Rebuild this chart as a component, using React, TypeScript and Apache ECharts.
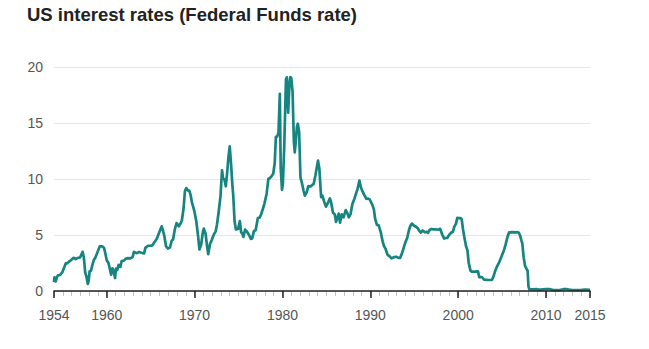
import React, { useEffect, useRef } from "react";
import * as echarts from "echarts";

const title = "US interest rates (Federal Funds rate)";
const xLabelYears = [1954, 1960, 1970, 1980, 1990, 2000, 2010, 2015];

// [year position, rate %]
const rate1950s: [number, number][] = [
  [1954.0, 0.8], [1954.05, 1.22], [1954.2, 0.85], [1954.35, 1.28],
  [1954.45, 1.39], [1954.7, 1.43], [1954.95, 1.68], [1955.2, 2.18], [1955.35, 2.48],
  [1955.45, 2.45], [1955.7, 2.62], [1955.95, 2.75], [1956.2, 2.96], [1956.35, 2.94],
  [1956.45, 2.84], [1956.7, 2.96], [1956.95, 2.99], [1957.12, 3.24], [1957.25, 3.5], [1957.4, 2.98],
  [1957.55, 1.67], [1957.7, 1.26], [1957.85, 0.63], [1957.95, 0.93], [1958.05, 1.76], [1958.2, 1.8], [1958.4, 2.42],
  [1958.55, 2.8], [1958.7, 2.96], [1958.95, 3.47], [1959.2, 3.98], [1959.4, 3.99],
];
const rate1960s: [number, number][] = [
  [1959.55, 3.97], [1959.7, 3.84], [1959.85, 3.32], [1960.0, 2.75], [1960.2, 2.5], [1960.35, 1.98],
  [1960.5, 1.45], [1960.65, 2.02], [1960.8, 1.73], [1960.95, 1.16], [1961.05, 2.0], [1961.2, 1.88], [1961.35, 2.33],
  [1961.55, 2.15], [1961.7, 2.68], [1961.95, 2.71], [1962.2, 2.9], [1962.4, 2.93],
  [1962.7, 2.92], [1962.95, 3.05], [1963.1, 3.49], [1963.4, 3.38],
  [1963.7, 3.48], [1963.95, 3.42], [1964.25, 3.36], [1964.4, 3.85],
  [1964.7, 4.04], [1964.95, 4.04], [1965.2, 4.08], [1965.4, 4.32],
  [1965.7, 4.67], [1965.95, 5.17], [1966.25, 5.77], [1966.4, 5.4],
  [1966.55, 4.94], [1966.75, 4.0], [1966.95, 3.79], [1967.2, 3.88], [1967.4, 4.51],
  [1967.55, 4.6], [1967.75, 5.5], [1967.95, 6.07], [1968.2, 5.78], [1968.4, 6.02],
  [1968.55, 6.3], [1968.75, 7.41], [1968.9, 8.9], [1969.05, 9.19], [1969.25, 8.97], [1969.4, 8.97],
];
const rate1970s: [number, number][] = [
  [1969.55, 8.57], [1969.7, 7.88], [1969.95, 7.21], [1970.2, 6.2], [1970.4, 4.9],
  [1970.55, 3.71], [1970.75, 4.15], [1970.95, 5.31], [1971.05, 5.57], [1971.25, 5.11], [1971.4, 4.14],
  [1971.55, 3.29], [1971.75, 4.17], [1971.95, 4.55], [1972.2, 5.06], [1972.4, 5.33],
  [1972.55, 5.94], [1972.75, 7.12], [1972.95, 8.49], [1973.12, 10.78], [1973.25, 10.01], [1973.4, 9.95],
  [1973.55, 9.35], [1973.7, 10.51], [1973.85, 11.93], [1974.0, 12.92], [1974.15, 11.34], [1974.3, 9.45], [1974.4, 8.53],
  [1974.55, 6.24], [1974.7, 5.49], [1974.95, 5.55], [1975.15, 6.24], [1975.3, 5.22], [1975.4, 5.2],
  [1975.55, 4.83], [1975.75, 5.48], [1975.95, 5.31], [1976.2, 5.0], [1976.4, 4.65],
  [1976.55, 4.69], [1976.75, 5.35], [1976.95, 5.42], [1977.2, 6.51], [1977.4, 6.56],
  [1977.55, 6.79], [1977.75, 7.28], [1977.95, 7.81], [1978.2, 8.69], [1978.4, 10.03],
  [1978.55, 10.07], [1978.75, 10.24], [1978.95, 10.47], [1979.12, 11.43], [1979.25, 13.77], [1979.4, 13.78],
];
const rate1980s: [number, number][] = [
  [1979.55, 14.13], [1979.7, 17.61], [1979.8, 10.98], [1979.95, 9.03], [1980.05, 9.61], [1980.2, 12.81], [1980.4, 18.9],
  [1980.5, 19.08], [1980.65, 15.93], [1980.8, 18.52], [1980.9, 19.1], [1981.0, 19.04], [1981.15, 17.82], [1981.3, 13.31], [1981.4, 12.37],
  [1981.5, 13.22], [1981.65, 14.68], [1981.75, 14.94], [1981.9, 14.15], [1982.05, 10.12], [1982.2, 9.71], [1982.4, 8.95],
  [1982.55, 8.51], [1982.75, 8.8], [1982.95, 9.37], [1983.2, 9.34], [1983.4, 9.47],
  [1983.55, 9.56], [1983.75, 10.32], [1983.95, 11.23], [1984.05, 11.64], [1984.2, 10.9], [1984.4, 8.38],
  [1984.55, 8.5], [1984.75, 7.97], [1984.95, 7.53], [1985.2, 7.92], [1985.4, 8.27],
  [1985.55, 7.86], [1985.75, 6.99], [1985.95, 6.85], [1986.1, 6.17], [1986.4, 6.91],
  [1986.55, 6.1], [1986.75, 6.85], [1986.95, 6.58], [1987.2, 7.22], [1987.4, 6.92],
  [1987.55, 6.58], [1987.75, 6.87], [1987.95, 7.75], [1988.2, 8.26], [1988.4, 8.76],
  [1988.55, 9.12], [1988.75, 9.85], [1988.95, 9.2], [1989.2, 8.75], [1989.4, 8.45],
];
const rate1990s: [number, number][] = [
  [1989.55, 8.23], [1989.75, 8.26], [1989.95, 8.15], [1990.2, 7.74], [1990.4, 7.31],
  [1990.55, 6.43], [1990.75, 5.91], [1990.95, 5.86], [1991.2, 5.21], [1991.4, 4.43],
  [1991.55, 4.03], [1991.75, 3.73], [1991.95, 3.25], [1992.2, 3.09], [1992.4, 2.92],
  [1992.7, 3.02], [1992.95, 3.06], [1993.2, 2.96], [1993.4, 2.96],
  [1993.55, 3.25], [1993.75, 3.73], [1993.95, 4.26], [1994.2, 4.76], [1994.4, 5.45],
  [1994.55, 5.81], [1994.75, 6.02], [1994.95, 5.85], [1995.2, 5.74], [1995.4, 5.6],
  [1995.55, 5.39], [1995.75, 5.22], [1995.95, 5.4], [1996.2, 5.24], [1996.4, 5.29],
  [1996.55, 5.19], [1996.75, 5.45], [1996.95, 5.54], [1997.2, 5.5], [1997.4, 5.5],
  [1997.55, 5.49], [1997.75, 5.48], [1997.95, 5.55], [1998.2, 5.0], [1998.4, 4.68],
  [1998.55, 4.73], [1998.75, 4.74], [1998.95, 4.99], [1999.2, 5.2], [1999.4, 5.3],
];
const rate2000s: [number, number][] = [
  [1999.55, 5.73], [1999.75, 6.02], [1999.9, 6.53], [2000.05, 6.5], [2000.25, 6.51], [2000.4, 6.4],
  [2000.55, 5.49], [2000.7, 4.8], [2000.9, 3.97], [2001.05, 3.65], [2001.2, 2.49], [2001.4, 1.82],
  [2001.55, 1.73], [2001.95, 1.73], [2002.25, 1.75], [2002.4, 1.24],
  [2002.7, 1.25], [2002.95, 1.01], [2003.4, 0.98],
  [2003.85, 1.0], [2004.0, 1.26], [2004.2, 1.76], [2004.4, 2.16],
  [2004.7, 2.63], [2004.95, 3.13], [2005.2, 3.62], [2005.4, 4.16],
  [2005.6, 4.8], [2005.8, 5.24], [2006.2, 5.25], [2006.5, 5.24],
  [2006.75, 5.25], [2006.9, 5.2], [2007.05, 4.94], [2007.2, 4.5], [2007.3, 4.24],
  [2007.45, 3.0], [2007.6, 2.28], [2007.75, 2.01], [2007.9, 1.81], [2008.0, 0.39], [2008.1, 0.16],
  [2008.5, 0.15], [2008.95, 0.16], [2009.2, 0.12], [2009.4, 0.12],
];
const rate2010s: [number, number][] = [
  [2009.95, 0.18], [2010.4, 0.18], [2010.95, 0.07], [2011.4, 0.07], [2011.95, 0.16], [2012.4, 0.16],
  [2012.95, 0.09], [2013.4, 0.09], [2013.95, 0.09], [2014.4, 0.12], [2015.0, 0.11],
];

const rateSeries = [
  ...rate1950s, ...rate1960s, ...rate1970s, ...rate1980s, ...rate1990s, ...rate2000s, ...rate2010s,
];

export default function App() {
  const ref = useRef<HTMLDivElement>(null);
  useEffect(() => {
    if (!ref.current) return;
    const chart = echarts.init(ref.current, undefined, { renderer: "svg" });
    const font = "'Liberation Sans', Arial, Helvetica, sans-serif";
    chart.setOption({
      animation: false,
      backgroundColor: "#ffffff",
      title: {
        text: title,
        left: 27,
        top: 3,
        padding: 0,
        textStyle: { fontFamily: font, fontSize: 18.5, lineHeight: 22, fontWeight: "bold", color: "#222" },
      },
      grid: { left: 54, right: 59, top: 67, bottom: 58, containLabel: false },
      xAxis: [
        {
          type: "value",
          min: 1954,
          max: 2015,
          axisLine: { show: true, lineStyle: { color: "#222", width: 1.5 } },
          axisTick: { show: true, length: 7, lineStyle: { color: "#222", width: 1.5 }, customValues: xLabelYears },
          axisLabel: {
            customValues: xLabelYears,
            margin: 17,
            color: "#555",
            fontSize: 14,
            fontFamily: font,
            formatter: (v: number) => String(v),
          },
          splitLine: { show: false },
          z: 5,
        },
        {
          type: "value",
          min: 1954,
          max: 2015,
          interval: 1,
          position: "bottom",
          axisLine: { show: true, lineStyle: { color: "rgba(0,0,0,0)" } },
          axisTick: { show: true, length: 5, lineStyle: { color: "#c4c4c4", width: 1 } },
          axisLabel: { show: false },
          splitLine: { show: false },
        },
      ],
      yAxis: {
        type: "value",
        min: 0,
        max: 20,
        interval: 5,
        axisLine: { show: false },
        axisTick: { show: false },
        axisLabel: {
          margin: 11,
          color: "#555",
          fontSize: 14,
          fontFamily: font,
        },
        splitLine: { show: true, lineStyle: { color: "#e6e6e6", width: 1 } },
      },
      series: [
        {
          type: "line",
          xAxisIndex: 0,
          data: rateSeries,
          showSymbol: false,
          lineStyle: { color: "#16857f", width: 2.7, join: "round" },
          z: 3,
        },
      ],
    });
    return () => chart.dispose();
  }, []);
  return <div ref={ref} style={{ position: "absolute", left: 0, top: 0, width: 649, height: 349 }} />;
}
